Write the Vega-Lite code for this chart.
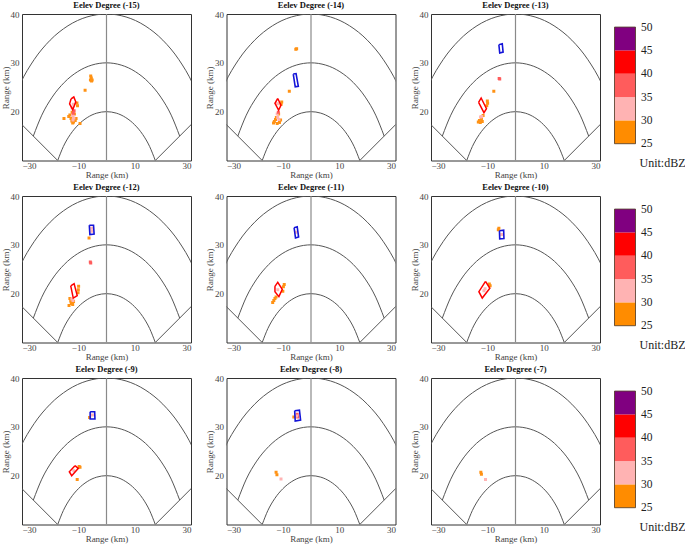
{
"$schema":"https://vega.github.io/schema/vega-lite/v6.json",
"padding":{"left":0,"top":0,"right":0,"bottom":0},
"datasets":{
"arcs":[
{"arc":20,"x":-17.32,"y":10},{"arc":20,"x":-15.32,"y":12.86},{"arc":20,"x":-12.86,"y":15.32},{"arc":20,"x":-10,"y":17.32},{"arc":20,"x":-6.84,"y":18.79},{"arc":20,"x":-3.47,"y":19.7},{"arc":20,"x":0,"y":20},{"arc":20,"x":3.47,"y":19.7},{"arc":20,"x":6.84,"y":18.79},{"arc":20,"x":10,"y":17.32},{"arc":20,"x":12.86,"y":15.32},{"arc":20,"x":15.32,"y":12.86},{"arc":20,"x":17.32,"y":10},
{"arc":30,"x":-25.98,"y":15},{"arc":30,"x":-22.98,"y":19.28},{"arc":30,"x":-19.28,"y":22.98},{"arc":30,"x":-15,"y":25.98},{"arc":30,"x":-10.26,"y":28.19},{"arc":30,"x":-5.21,"y":29.54},{"arc":30,"x":0,"y":30},{"arc":30,"x":5.21,"y":29.54},{"arc":30,"x":10.26,"y":28.19},{"arc":30,"x":15,"y":25.98},{"arc":30,"x":19.28,"y":22.98},{"arc":30,"x":22.98,"y":19.28},{"arc":30,"x":25.98,"y":15},
{"arc":40,"x":-34.64,"y":20},{"arc":40,"x":-30.64,"y":25.71},{"arc":40,"x":-25.71,"y":30.64},{"arc":40,"x":-20,"y":34.64},{"arc":40,"x":-13.68,"y":37.59},{"arc":40,"x":-6.95,"y":39.39},{"arc":40,"x":0,"y":40},{"arc":40,"x":6.95,"y":39.39},{"arc":40,"x":13.68,"y":37.59},{"arc":40,"x":20,"y":34.64},{"arc":40,"x":25.71,"y":30.64},{"arc":40,"x":30.64,"y":25.71},{"arc":40,"x":34.64,"y":20}
],
"radials":[
{"id":"side","x":-17.32,"y":10,"x2":-34.64,"y2":20},
{"id":"side","x":17.32,"y":10,"x2":34.64,"y2":20},
{"id":"center","x":0,"y":10,"x2":0,"y2":40}
],
"echo":[
{"p":1,"x":-5.6,"y":27.3,"d":27},{"p":1,"x":-5.4,"y":26.9,"d":27},{"p":1,"x":-5.1,"y":26.5,"d":27},{"p":1,"x":-5.7,"y":26.5,"d":27},{"p":1,"x":-5.3,"y":26.3,"d":27},{"p":1,"x":-7.6,"y":24.4,"d":26},
{"p":1,"x":-13.0,"y":19.3,"d":27},{"p":1,"x":-12.6,"y":18.6,"d":27},{"p":1,"x":-12.3,"y":18.1,"d":27},{"p":1,"x":-11.7,"y":17.9,"d":27},{"p":1,"x":-11.1,"y":18.2,"d":27},{"p":1,"x":-10.8,"y":18.6,"d":27},{"p":1,"x":-11.4,"y":19.5,"d":27},{"p":1,"x":-12.2,"y":19.9,"d":27},{"p":1,"x":-10.5,"y":21.8,"d":27},{"p":1,"x":-10.3,"y":21.2,"d":27},{"p":1,"x":-15.1,"y":18.6,"d":27},{"p":1,"x":-9.4,"y":17.6,"d":27},{"p":1,"x":-13.4,"y":19.0,"d":27},{"p":1,"x":-12.0,"y":17.7,"d":27},
{"p":1,"x":-12.0,"y":19.2,"d":32},{"p":1,"x":-11.6,"y":18.7,"d":32},{"p":1,"x":-11.9,"y":18.3,"d":32},{"p":1,"x":-12.2,"y":20.8,"d":32},{"p":1,"x":-11.8,"y":21.5,"d":32},{"p":1,"x":-11.8,"y":19.7,"d":37},{"p":1,"x":-11.5,"y":20.2,"d":37},
{"p":2,"x":-5.4,"y":32.8,"d":27},{"p":2,"x":-5.1,"y":32.9,"d":27},{"p":2,"x":-7.7,"y":24.2,"d":27},{"p":2,"x":-10.4,"y":22.0,"d":27},{"p":2,"x":-10.6,"y":21.5,"d":27},{"p":2,"x":-13.0,"y":18.0,"d":27},{"p":2,"x":-12.6,"y":18.4,"d":27},{"p":2,"x":-12.3,"y":18.8,"d":27},{"p":2,"x":-11.5,"y":19.5,"d":27},{"p":2,"x":-10.8,"y":18.3,"d":27},{"p":2,"x":-11.2,"y":17.8,"d":27},{"p":2,"x":-13.3,"y":17.7,"d":27},{"p":2,"x":-12.0,"y":17.6,"d":27},
{"p":2,"x":-11.8,"y":18.8,"d":32},{"p":2,"x":-12.0,"y":19.5,"d":32},{"p":2,"x":-11.4,"y":18.4,"d":32},{"p":2,"x":-11.9,"y":21.6,"d":32},{"p":2,"x":-11.6,"y":19.9,"d":37},
{"p":3,"x":-5.8,"y":26.8,"d":38},{"p":3,"x":-5.6,"y":26.7,"d":38},{"p":3,"x":-7.7,"y":24.2,"d":26},{"p":3,"x":-9.9,"y":21.7,"d":27},{"p":3,"x":-10.2,"y":21.2,"d":27},{"p":3,"x":-10.0,"y":22.2,"d":27},{"p":3,"x":-13.2,"y":17.9,"d":27},{"p":3,"x":-12.8,"y":18.2,"d":27},{"p":3,"x":-12.1,"y":18.6,"d":27},{"p":3,"x":-11.5,"y":19.2,"d":27},{"p":3,"x":-12.5,"y":17.8,"d":27},{"p":3,"x":-11.8,"y":18.0,"d":27},{"p":3,"x":-12.0,"y":19.0,"d":32},{"p":3,"x":-12.4,"y":18.9,"d":32},
{"p":4,"x":-5.3,"y":33.4,"d":32},{"p":4,"x":-5.2,"y":32.8,"d":32},{"p":4,"x":-6.2,"y":31.4,"d":27},{"p":4,"x":-5.75,"y":26.5,"d":37},{"p":4,"x":-5.6,"y":26.3,"d":37},{"p":4,"x":-9.9,"y":21.5,"d":27},{"p":4,"x":-10.0,"y":20.8,"d":27},{"p":4,"x":-10.1,"y":20.2,"d":27},{"p":4,"x":-13.0,"y":19.0,"d":27},{"p":4,"x":-12.7,"y":18.5,"d":27},{"p":4,"x":-12.5,"y":18.0,"d":27},{"p":4,"x":-12.0,"y":17.8,"d":27},{"p":4,"x":-13.3,"y":17.6,"d":27},{"p":4,"x":-11.7,"y":18.4,"d":27},{"p":4,"x":-11.9,"y":18.6,"d":32},{"p":4,"x":-12.3,"y":18.9,"d":32},
{"p":5,"x":-5.3,"y":32.6,"d":32},{"p":5,"x":-9.5,"y":21.9,"d":27},{"p":5,"x":-9.8,"y":21.4,"d":27},{"p":5,"x":-10.0,"y":20.5,"d":27},{"p":5,"x":-13.6,"y":18.2,"d":27},{"p":5,"x":-13.2,"y":18.6,"d":27},{"p":5,"x":-12.8,"y":19.0,"d":27},{"p":5,"x":-12.4,"y":19.3,"d":27},{"p":5,"x":-11.8,"y":20.8,"d":32},
{"p":6,"x":-6.1,"y":33.1,"d":27},{"p":6,"x":-5.9,"y":33.4,"d":27},{"p":6,"x":-4.9,"y":32.1,"d":32},{"p":6,"x":-9.0,"y":21.6,"d":27},{"p":6,"x":-9.3,"y":22.0,"d":27},{"p":6,"x":-11.2,"y":20.6,"d":32},{"p":6,"x":-10.8,"y":21.0,"d":32},
{"p":7,"x":-6.0,"y":31.9,"d":27},{"p":7,"x":-5.0,"y":32.4,"d":32},{"p":7,"x":-9.4,"y":21.7,"d":27},{"p":7,"x":-9.7,"y":21.9,"d":27},{"p":7,"x":-10.4,"y":19.2,"d":27},{"p":7,"x":-11.6,"y":21.0,"d":32},
{"p":8,"x":-4.9,"y":32.6,"d":37},{"p":8,"x":-4.7,"y":32.0,"d":37},{"p":8,"x":-5.1,"y":32.2,"d":32},{"p":8,"x":-6.1,"y":32.0,"d":27},{"p":8,"x":-12.4,"y":20.7,"d":27},{"p":8,"x":-12.1,"y":20.2,"d":27},{"p":8,"x":-10.65,"y":19.3,"d":32},
{"p":9,"x":-12.3,"y":20.7,"d":27},{"p":9,"x":-12.1,"y":20.3,"d":27},{"p":9,"x":-10.65,"y":19.2,"d":32}
],
"rings":[
{"p":1,"id":"r1","kind":"red","o":0,"x":-12.6,"y":22.6},{"p":1,"id":"r1","kind":"red","o":1,"x":-11.6,"y":23.0},{"p":1,"id":"r1","kind":"red","o":2,"x":-10.9,"y":22.0},{"p":1,"id":"r1","kind":"red","o":3,"x":-12.0,"y":20.4},{"p":1,"id":"r1","kind":"red","o":4,"x":-13.1,"y":21.6},{"p":1,"id":"r1","kind":"red","o":5,"x":-12.6,"y":22.6},
{"p":2,"id":"r2","kind":"red","o":0,"x":-11.8,"y":22.7},{"p":2,"id":"r2","kind":"red","o":1,"x":-10.65,"y":21.3},{"p":2,"id":"r2","kind":"red","o":2,"x":-11.5,"y":20.3},{"p":2,"id":"r2","kind":"red","o":3,"x":-12.8,"y":21.7},{"p":2,"id":"r2","kind":"red","o":4,"x":-11.8,"y":22.7},
{"p":2,"id":"b2","kind":"blue","o":0,"x":-6.3,"y":27.7},{"p":2,"id":"b2","kind":"blue","o":1,"x":-5.3,"y":27.8},{"p":2,"id":"b2","kind":"blue","o":2,"x":-4.5,"y":25.2},{"p":2,"id":"b2","kind":"blue","o":3,"x":-5.6,"y":25.1},{"p":2,"id":"b2","kind":"blue","o":4,"x":-6.3,"y":27.7},
{"p":3,"id":"b3","kind":"blue","o":0,"x":-5.9,"y":33.7},{"p":3,"id":"b3","kind":"blue","o":1,"x":-4.7,"y":33.9},{"p":3,"id":"b3","kind":"blue","o":2,"x":-4.4,"y":32.2},{"p":3,"id":"b3","kind":"blue","o":3,"x":-5.6,"y":32.0},{"p":3,"id":"b3","kind":"blue","o":4,"x":-5.9,"y":33.7},
{"p":3,"id":"r3","kind":"red","o":0,"x":-13.1,"y":21.9},{"p":3,"id":"r3","kind":"red","o":1,"x":-12.2,"y":22.8},{"p":3,"id":"r3","kind":"red","o":2,"x":-10.3,"y":20.6},{"p":3,"id":"r3","kind":"red","o":3,"x":-11.2,"y":19.8},{"p":3,"id":"r3","kind":"red","o":4,"x":-13.1,"y":21.9},
{"p":4,"id":"b4","kind":"blue","o":0,"x":-6.1,"y":34.0},{"p":4,"id":"b4","kind":"blue","o":1,"x":-4.6,"y":34.0},{"p":4,"id":"b4","kind":"blue","o":2,"x":-4.4,"y":32.2},{"p":4,"id":"b4","kind":"blue","o":3,"x":-5.9,"y":32.1},{"p":4,"id":"b4","kind":"blue","o":4,"x":-6.1,"y":34.0},
{"p":4,"id":"r4","kind":"red","o":0,"x":-12.7,"y":21.6},{"p":4,"id":"r4","kind":"red","o":1,"x":-11.5,"y":22.05},{"p":4,"id":"r4","kind":"red","o":2,"x":-10.4,"y":19.6},{"p":4,"id":"r4","kind":"red","o":3,"x":-11.8,"y":19.1},{"p":4,"id":"r4","kind":"red","o":4,"x":-12.7,"y":21.6},
{"p":5,"id":"b5","kind":"blue","o":0,"x":-6.0,"y":33.5},{"p":5,"id":"b5","kind":"blue","o":1,"x":-4.9,"y":33.7},{"p":5,"id":"b5","kind":"blue","o":2,"x":-4.4,"y":31.6},{"p":5,"id":"b5","kind":"blue","o":3,"x":-5.5,"y":31.4},{"p":5,"id":"b5","kind":"blue","o":4,"x":-6.0,"y":33.5},
{"p":5,"id":"r5","kind":"red","o":0,"x":-12.8,"y":21.5},{"p":5,"id":"r5","kind":"red","o":1,"x":-11.8,"y":22.3},{"p":5,"id":"r5","kind":"red","o":2,"x":-10.2,"y":20.9},{"p":5,"id":"r5","kind":"red","o":3,"x":-11.4,"y":19.4},{"p":5,"id":"r5","kind":"red","o":4,"x":-12.8,"y":20.4},{"p":5,"id":"r5","kind":"red","o":5,"x":-12.8,"y":21.5},
{"p":6,"id":"b6","kind":"blue","o":0,"x":-5.7,"y":32.9},{"p":6,"id":"b6","kind":"blue","o":1,"x":-4.2,"y":33.0},{"p":6,"id":"b6","kind":"blue","o":2,"x":-4.1,"y":31.3},{"p":6,"id":"b6","kind":"blue","o":3,"x":-5.6,"y":31.2},{"p":6,"id":"b6","kind":"blue","o":4,"x":-5.7,"y":32.9},
{"p":6,"id":"r6","kind":"red","o":0,"x":-10.65,"y":22.5},{"p":6,"id":"r6","kind":"red","o":1,"x":-9.1,"y":21.1},{"p":6,"id":"r6","kind":"red","o":2,"x":-11.8,"y":19.1},{"p":6,"id":"r6","kind":"red","o":3,"x":-13.0,"y":20.4},{"p":6,"id":"r6","kind":"red","o":4,"x":-10.65,"y":22.5},
{"p":7,"id":"b7","kind":"blue","o":0,"x":-5.8,"y":33.1},{"p":7,"id":"b7","kind":"blue","o":1,"x":-4.2,"y":33.1},{"p":7,"id":"b7","kind":"blue","o":2,"x":-4.1,"y":31.6},{"p":7,"id":"b7","kind":"blue","o":3,"x":-5.8,"y":31.6},{"p":7,"id":"b7","kind":"blue","o":4,"x":-5.8,"y":33.1},
{"p":7,"id":"r7","kind":"red","o":0,"x":-11.2,"y":22.05},{"p":7,"id":"r7","kind":"red","o":1,"x":-10.0,"y":21.5},{"p":7,"id":"r7","kind":"red","o":2,"x":-12.35,"y":20.0},{"p":7,"id":"r7","kind":"red","o":3,"x":-13.2,"y":20.8},{"p":7,"id":"r7","kind":"red","o":4,"x":-11.2,"y":22.05},
{"p":8,"id":"b8","kind":"blue","o":0,"x":-5.8,"y":33.3},{"p":8,"id":"b8","kind":"blue","o":1,"x":-4.1,"y":33.4},{"p":8,"id":"b8","kind":"blue","o":2,"x":-3.7,"y":31.4},{"p":8,"id":"b8","kind":"blue","o":3,"x":-5.6,"y":31.2},{"p":8,"id":"b8","kind":"blue","o":4,"x":-5.8,"y":33.3}
],
"bins":[{"lo":25,"hi":30},{"lo":30,"hi":35},{"lo":35,"hi":40},{"lo":40,"hi":45},{"lo":45,"hi":50}],
"frame":[{"lo":25,"hi":50}]
},
"vconcat":[
{"hconcat":[
{"width":169,"height":146.5,"title":"Eelev Degree (-15)","layer":[
{"data":{"name":"arcs"},"mark":{"type":"line","clip":true,"interpolate":"monotone","color":"#555555","strokeWidth":1},"encoding":{"x":{"field":"x","type":"quantitative","scale":{"domain":[-30,30],"nice":false,"zero":false},"axis":{"values":[-30,-20,-10,0,10,20,30]},"title":"Range (km)"},"y":{"field":"y","type":"quantitative","scale":{"domain":[10,40],"nice":false,"zero":false},"axis":{"values":[20,30,40]},"title":"Range (km)"},"detail":{"field":"arc"}}},
{"data":{"name":"radials"},"transform":[{"filter":"datum.id=='side'"}],"mark":{"type":"rule","clip":true,"color":"#555555","strokeWidth":1},"encoding":{"x":{"field":"x","type":"quantitative","title":"Range (km)"},"y":{"field":"y","type":"quantitative","title":"Range (km)"},"x2":{"field":"x2"},"y2":{"field":"y2"}}},
{"data":{"name":"radials"},"transform":[{"filter":"datum.id=='center'"}],"mark":{"type":"rule","clip":true,"color":"#8a8a8a","strokeWidth":1.2},"encoding":{"x":{"field":"x","type":"quantitative","title":"Range (km)"},"y":{"field":"y","type":"quantitative","title":"Range (km)"},"x2":{"field":"x2"},"y2":{"field":"y2"}}},
{"data":{"name":"echo"},"transform":[{"filter":"datum.p==1"}],"mark":{"type":"square","size":9,"opacity":1,"clip":true},"encoding":{"x":{"field":"x","type":"quantitative","title":"Range (km)"},"y":{"field":"y","type":"quantitative","title":"Range (km)"},"color":{"field":"d","type":"quantitative","scale":{"type":"threshold","domain":[30,35,40,45],"range":["#FF9214","#FFB3B3","#FF5C5C","#FF0000","#800080"]},"legend":null}}},
{"data":{"name":"rings"},"transform":[{"filter":"datum.p==1 && datum.kind=='red'"}],"mark":{"type":"line","color":"#FF0000","strokeWidth":1.5,"clip":true},"encoding":{"x":{"field":"x","type":"quantitative","title":"Range (km)"},"y":{"field":"y","type":"quantitative","title":"Range (km)"},"order":{"field":"o","type":"quantitative"},"detail":{"field":"id"}}},
{"data":{"name":"rings"},"transform":[{"filter":"datum.p==1 && datum.kind=='blue'"}],"mark":{"type":"line","color":"#1414D8","strokeWidth":1.6,"clip":true},"encoding":{"x":{"field":"x","type":"quantitative","title":"Range (km)"},"y":{"field":"y","type":"quantitative","title":"Range (km)"},"order":{"field":"o","type":"quantitative"},"detail":{"field":"id"}}}
]},
{"width":169,"height":146.5,"title":"Eelev Degree (-14)","layer":[
{"data":{"name":"arcs"},"mark":{"type":"line","clip":true,"interpolate":"monotone","color":"#555555","strokeWidth":1},"encoding":{"x":{"field":"x","type":"quantitative","scale":{"domain":[-30,30],"nice":false,"zero":false},"axis":{"values":[-30,-20,-10,0,10,20,30]},"title":"Range (km)"},"y":{"field":"y","type":"quantitative","scale":{"domain":[10,40],"nice":false,"zero":false},"axis":{"values":[20,30,40]},"title":"Range (km)"},"detail":{"field":"arc"}}},
{"data":{"name":"radials"},"transform":[{"filter":"datum.id=='side'"}],"mark":{"type":"rule","clip":true,"color":"#555555","strokeWidth":1},"encoding":{"x":{"field":"x","type":"quantitative","title":"Range (km)"},"y":{"field":"y","type":"quantitative","title":"Range (km)"},"x2":{"field":"x2"},"y2":{"field":"y2"}}},
{"data":{"name":"radials"},"transform":[{"filter":"datum.id=='center'"}],"mark":{"type":"rule","clip":true,"color":"#8a8a8a","strokeWidth":1.2},"encoding":{"x":{"field":"x","type":"quantitative","title":"Range (km)"},"y":{"field":"y","type":"quantitative","title":"Range (km)"},"x2":{"field":"x2"},"y2":{"field":"y2"}}},
{"data":{"name":"echo"},"transform":[{"filter":"datum.p==2"}],"mark":{"type":"square","size":9,"opacity":1,"clip":true},"encoding":{"x":{"field":"x","type":"quantitative","title":"Range (km)"},"y":{"field":"y","type":"quantitative","title":"Range (km)"},"color":{"field":"d","type":"quantitative","scale":{"type":"threshold","domain":[30,35,40,45],"range":["#FF9214","#FFB3B3","#FF5C5C","#FF0000","#800080"]},"legend":null}}},
{"data":{"name":"rings"},"transform":[{"filter":"datum.p==2 && datum.kind=='red'"}],"mark":{"type":"line","color":"#FF0000","strokeWidth":1.5,"clip":true},"encoding":{"x":{"field":"x","type":"quantitative","title":"Range (km)"},"y":{"field":"y","type":"quantitative","title":"Range (km)"},"order":{"field":"o","type":"quantitative"},"detail":{"field":"id"}}},
{"data":{"name":"rings"},"transform":[{"filter":"datum.p==2 && datum.kind=='blue'"}],"mark":{"type":"line","color":"#1414D8","strokeWidth":1.6,"clip":true},"encoding":{"x":{"field":"x","type":"quantitative","title":"Range (km)"},"y":{"field":"y","type":"quantitative","title":"Range (km)"},"order":{"field":"o","type":"quantitative"},"detail":{"field":"id"}}}
]},
{"width":169,"height":146.5,"title":"Eelev Degree (-13)","layer":[
{"data":{"name":"arcs"},"mark":{"type":"line","clip":true,"interpolate":"monotone","color":"#555555","strokeWidth":1},"encoding":{"x":{"field":"x","type":"quantitative","scale":{"domain":[-30,30],"nice":false,"zero":false},"axis":{"values":[-30,-20,-10,0,10,20,30]},"title":"Range (km)"},"y":{"field":"y","type":"quantitative","scale":{"domain":[10,40],"nice":false,"zero":false},"axis":{"values":[20,30,40]},"title":"Range (km)"},"detail":{"field":"arc"}}},
{"data":{"name":"radials"},"transform":[{"filter":"datum.id=='side'"}],"mark":{"type":"rule","clip":true,"color":"#555555","strokeWidth":1},"encoding":{"x":{"field":"x","type":"quantitative","title":"Range (km)"},"y":{"field":"y","type":"quantitative","title":"Range (km)"},"x2":{"field":"x2"},"y2":{"field":"y2"}}},
{"data":{"name":"radials"},"transform":[{"filter":"datum.id=='center'"}],"mark":{"type":"rule","clip":true,"color":"#8a8a8a","strokeWidth":1.2},"encoding":{"x":{"field":"x","type":"quantitative","title":"Range (km)"},"y":{"field":"y","type":"quantitative","title":"Range (km)"},"x2":{"field":"x2"},"y2":{"field":"y2"}}},
{"data":{"name":"echo"},"transform":[{"filter":"datum.p==3"}],"mark":{"type":"square","size":9,"opacity":1,"clip":true},"encoding":{"x":{"field":"x","type":"quantitative","title":"Range (km)"},"y":{"field":"y","type":"quantitative","title":"Range (km)"},"color":{"field":"d","type":"quantitative","scale":{"type":"threshold","domain":[30,35,40,45],"range":["#FF9214","#FFB3B3","#FF5C5C","#FF0000","#800080"]},"legend":null}}},
{"data":{"name":"rings"},"transform":[{"filter":"datum.p==3 && datum.kind=='red'"}],"mark":{"type":"line","color":"#FF0000","strokeWidth":1.5,"clip":true},"encoding":{"x":{"field":"x","type":"quantitative","title":"Range (km)"},"y":{"field":"y","type":"quantitative","title":"Range (km)"},"order":{"field":"o","type":"quantitative"},"detail":{"field":"id"}}},
{"data":{"name":"rings"},"transform":[{"filter":"datum.p==3 && datum.kind=='blue'"}],"mark":{"type":"line","color":"#1414D8","strokeWidth":1.6,"clip":true},"encoding":{"x":{"field":"x","type":"quantitative","title":"Range (km)"},"y":{"field":"y","type":"quantitative","title":"Range (km)"},"order":{"field":"o","type":"quantitative"},"detail":{"field":"id"}}}
]},
{"width":21,"height":146.5,"view":{"stroke":null},"title":{"text":"Unit:dBZ","orient":"bottom","anchor":"start","dx":25,"offset":-2.5,"fontSize":12,"fontWeight":"normal","color":"#222222"},"layer":[
{"data":{"name":"bins"},"mark":{"type":"rect"},"encoding":{"y":{"field":"lo","type":"quantitative","scale":{"domain":[21.4,52.8],"nice":false,"zero":false},"axis":{"orient":"right","values":[25,30,35,40,45,50],"labelFontSize":11.5,"labelPadding":5,"labelColor":"#222222","labelOverlap":false,"labelFlush":false},"title":null},"y2":{"field":"hi"},"color":{"field":"lo","type":"ordinal","scale":{"domain":[25,30,35,40,45],"range":["#FF8C00","#FFB3B3","#FF5C5C","#FF0000","#800080"]},"legend":null}}},
{"data":{"name":"frame"},"mark":{"type":"rect","filled":false,"stroke":"#4a3520","strokeWidth":0.8},"encoding":{"y":{"field":"lo","type":"quantitative","axis":{"orient":"right","values":[25,30,35,40,45,50],"labelFontSize":11.5,"labelPadding":5,"labelColor":"#222222","labelOverlap":false,"labelFlush":false},"title":null},"y2":{"field":"hi"}}}
]}
],"spacing":12.5},
{"hconcat":[
{"width":169,"height":146.5,"title":"Eelev Degree (-12)","layer":[
{"data":{"name":"arcs"},"mark":{"type":"line","clip":true,"interpolate":"monotone","color":"#555555","strokeWidth":1},"encoding":{"x":{"field":"x","type":"quantitative","scale":{"domain":[-30,30],"nice":false,"zero":false},"axis":{"values":[-30,-20,-10,0,10,20,30]},"title":"Range (km)"},"y":{"field":"y","type":"quantitative","scale":{"domain":[10,40],"nice":false,"zero":false},"axis":{"values":[20,30,40]},"title":"Range (km)"},"detail":{"field":"arc"}}},
{"data":{"name":"radials"},"transform":[{"filter":"datum.id=='side'"}],"mark":{"type":"rule","clip":true,"color":"#555555","strokeWidth":1},"encoding":{"x":{"field":"x","type":"quantitative","title":"Range (km)"},"y":{"field":"y","type":"quantitative","title":"Range (km)"},"x2":{"field":"x2"},"y2":{"field":"y2"}}},
{"data":{"name":"radials"},"transform":[{"filter":"datum.id=='center'"}],"mark":{"type":"rule","clip":true,"color":"#8a8a8a","strokeWidth":1.2},"encoding":{"x":{"field":"x","type":"quantitative","title":"Range (km)"},"y":{"field":"y","type":"quantitative","title":"Range (km)"},"x2":{"field":"x2"},"y2":{"field":"y2"}}},
{"data":{"name":"echo"},"transform":[{"filter":"datum.p==4"}],"mark":{"type":"square","size":9,"opacity":1,"clip":true},"encoding":{"x":{"field":"x","type":"quantitative","title":"Range (km)"},"y":{"field":"y","type":"quantitative","title":"Range (km)"},"color":{"field":"d","type":"quantitative","scale":{"type":"threshold","domain":[30,35,40,45],"range":["#FF9214","#FFB3B3","#FF5C5C","#FF0000","#800080"]},"legend":null}}},
{"data":{"name":"rings"},"transform":[{"filter":"datum.p==4 && datum.kind=='red'"}],"mark":{"type":"line","color":"#FF0000","strokeWidth":1.5,"clip":true},"encoding":{"x":{"field":"x","type":"quantitative","title":"Range (km)"},"y":{"field":"y","type":"quantitative","title":"Range (km)"},"order":{"field":"o","type":"quantitative"},"detail":{"field":"id"}}},
{"data":{"name":"rings"},"transform":[{"filter":"datum.p==4 && datum.kind=='blue'"}],"mark":{"type":"line","color":"#1414D8","strokeWidth":1.6,"clip":true},"encoding":{"x":{"field":"x","type":"quantitative","title":"Range (km)"},"y":{"field":"y","type":"quantitative","title":"Range (km)"},"order":{"field":"o","type":"quantitative"},"detail":{"field":"id"}}}
]},
{"width":169,"height":146.5,"title":"Eelev Degree (-11)","layer":[
{"data":{"name":"arcs"},"mark":{"type":"line","clip":true,"interpolate":"monotone","color":"#555555","strokeWidth":1},"encoding":{"x":{"field":"x","type":"quantitative","scale":{"domain":[-30,30],"nice":false,"zero":false},"axis":{"values":[-30,-20,-10,0,10,20,30]},"title":"Range (km)"},"y":{"field":"y","type":"quantitative","scale":{"domain":[10,40],"nice":false,"zero":false},"axis":{"values":[20,30,40]},"title":"Range (km)"},"detail":{"field":"arc"}}},
{"data":{"name":"radials"},"transform":[{"filter":"datum.id=='side'"}],"mark":{"type":"rule","clip":true,"color":"#555555","strokeWidth":1},"encoding":{"x":{"field":"x","type":"quantitative","title":"Range (km)"},"y":{"field":"y","type":"quantitative","title":"Range (km)"},"x2":{"field":"x2"},"y2":{"field":"y2"}}},
{"data":{"name":"radials"},"transform":[{"filter":"datum.id=='center'"}],"mark":{"type":"rule","clip":true,"color":"#8a8a8a","strokeWidth":1.2},"encoding":{"x":{"field":"x","type":"quantitative","title":"Range (km)"},"y":{"field":"y","type":"quantitative","title":"Range (km)"},"x2":{"field":"x2"},"y2":{"field":"y2"}}},
{"data":{"name":"echo"},"transform":[{"filter":"datum.p==5"}],"mark":{"type":"square","size":9,"opacity":1,"clip":true},"encoding":{"x":{"field":"x","type":"quantitative","title":"Range (km)"},"y":{"field":"y","type":"quantitative","title":"Range (km)"},"color":{"field":"d","type":"quantitative","scale":{"type":"threshold","domain":[30,35,40,45],"range":["#FF9214","#FFB3B3","#FF5C5C","#FF0000","#800080"]},"legend":null}}},
{"data":{"name":"rings"},"transform":[{"filter":"datum.p==5 && datum.kind=='red'"}],"mark":{"type":"line","color":"#FF0000","strokeWidth":1.5,"clip":true},"encoding":{"x":{"field":"x","type":"quantitative","title":"Range (km)"},"y":{"field":"y","type":"quantitative","title":"Range (km)"},"order":{"field":"o","type":"quantitative"},"detail":{"field":"id"}}},
{"data":{"name":"rings"},"transform":[{"filter":"datum.p==5 && datum.kind=='blue'"}],"mark":{"type":"line","color":"#1414D8","strokeWidth":1.6,"clip":true},"encoding":{"x":{"field":"x","type":"quantitative","title":"Range (km)"},"y":{"field":"y","type":"quantitative","title":"Range (km)"},"order":{"field":"o","type":"quantitative"},"detail":{"field":"id"}}}
]},
{"width":169,"height":146.5,"title":"Eelev Degree (-10)","layer":[
{"data":{"name":"arcs"},"mark":{"type":"line","clip":true,"interpolate":"monotone","color":"#555555","strokeWidth":1},"encoding":{"x":{"field":"x","type":"quantitative","scale":{"domain":[-30,30],"nice":false,"zero":false},"axis":{"values":[-30,-20,-10,0,10,20,30]},"title":"Range (km)"},"y":{"field":"y","type":"quantitative","scale":{"domain":[10,40],"nice":false,"zero":false},"axis":{"values":[20,30,40]},"title":"Range (km)"},"detail":{"field":"arc"}}},
{"data":{"name":"radials"},"transform":[{"filter":"datum.id=='side'"}],"mark":{"type":"rule","clip":true,"color":"#555555","strokeWidth":1},"encoding":{"x":{"field":"x","type":"quantitative","title":"Range (km)"},"y":{"field":"y","type":"quantitative","title":"Range (km)"},"x2":{"field":"x2"},"y2":{"field":"y2"}}},
{"data":{"name":"radials"},"transform":[{"filter":"datum.id=='center'"}],"mark":{"type":"rule","clip":true,"color":"#8a8a8a","strokeWidth":1.2},"encoding":{"x":{"field":"x","type":"quantitative","title":"Range (km)"},"y":{"field":"y","type":"quantitative","title":"Range (km)"},"x2":{"field":"x2"},"y2":{"field":"y2"}}},
{"data":{"name":"echo"},"transform":[{"filter":"datum.p==6"}],"mark":{"type":"square","size":9,"opacity":1,"clip":true},"encoding":{"x":{"field":"x","type":"quantitative","title":"Range (km)"},"y":{"field":"y","type":"quantitative","title":"Range (km)"},"color":{"field":"d","type":"quantitative","scale":{"type":"threshold","domain":[30,35,40,45],"range":["#FF9214","#FFB3B3","#FF5C5C","#FF0000","#800080"]},"legend":null}}},
{"data":{"name":"rings"},"transform":[{"filter":"datum.p==6 && datum.kind=='red'"}],"mark":{"type":"line","color":"#FF0000","strokeWidth":1.5,"clip":true},"encoding":{"x":{"field":"x","type":"quantitative","title":"Range (km)"},"y":{"field":"y","type":"quantitative","title":"Range (km)"},"order":{"field":"o","type":"quantitative"},"detail":{"field":"id"}}},
{"data":{"name":"rings"},"transform":[{"filter":"datum.p==6 && datum.kind=='blue'"}],"mark":{"type":"line","color":"#1414D8","strokeWidth":1.6,"clip":true},"encoding":{"x":{"field":"x","type":"quantitative","title":"Range (km)"},"y":{"field":"y","type":"quantitative","title":"Range (km)"},"order":{"field":"o","type":"quantitative"},"detail":{"field":"id"}}}
]},
{"width":21,"height":146.5,"view":{"stroke":null},"title":{"text":"Unit:dBZ","orient":"bottom","anchor":"start","dx":25,"offset":-2.5,"fontSize":12,"fontWeight":"normal","color":"#222222"},"layer":[
{"data":{"name":"bins"},"mark":{"type":"rect"},"encoding":{"y":{"field":"lo","type":"quantitative","scale":{"domain":[21.4,52.8],"nice":false,"zero":false},"axis":{"orient":"right","values":[25,30,35,40,45,50],"labelFontSize":11.5,"labelPadding":5,"labelColor":"#222222","labelOverlap":false,"labelFlush":false},"title":null},"y2":{"field":"hi"},"color":{"field":"lo","type":"ordinal","scale":{"domain":[25,30,35,40,45],"range":["#FF8C00","#FFB3B3","#FF5C5C","#FF0000","#800080"]},"legend":null}}},
{"data":{"name":"frame"},"mark":{"type":"rect","filled":false,"stroke":"#4a3520","strokeWidth":0.8},"encoding":{"y":{"field":"lo","type":"quantitative","axis":{"orient":"right","values":[25,30,35,40,45,50],"labelFontSize":11.5,"labelPadding":5,"labelColor":"#222222","labelOverlap":false,"labelFlush":false},"title":null},"y2":{"field":"hi"}}}
]}
],"spacing":12.5},
{"hconcat":[
{"width":169,"height":146.5,"title":"Eelev Degree (-9)","layer":[
{"data":{"name":"arcs"},"mark":{"type":"line","clip":true,"interpolate":"monotone","color":"#555555","strokeWidth":1},"encoding":{"x":{"field":"x","type":"quantitative","scale":{"domain":[-30,30],"nice":false,"zero":false},"axis":{"values":[-30,-20,-10,0,10,20,30]},"title":"Range (km)"},"y":{"field":"y","type":"quantitative","scale":{"domain":[10,40],"nice":false,"zero":false},"axis":{"values":[20,30,40]},"title":"Range (km)"},"detail":{"field":"arc"}}},
{"data":{"name":"radials"},"transform":[{"filter":"datum.id=='side'"}],"mark":{"type":"rule","clip":true,"color":"#555555","strokeWidth":1},"encoding":{"x":{"field":"x","type":"quantitative","title":"Range (km)"},"y":{"field":"y","type":"quantitative","title":"Range (km)"},"x2":{"field":"x2"},"y2":{"field":"y2"}}},
{"data":{"name":"radials"},"transform":[{"filter":"datum.id=='center'"}],"mark":{"type":"rule","clip":true,"color":"#8a8a8a","strokeWidth":1.2},"encoding":{"x":{"field":"x","type":"quantitative","title":"Range (km)"},"y":{"field":"y","type":"quantitative","title":"Range (km)"},"x2":{"field":"x2"},"y2":{"field":"y2"}}},
{"data":{"name":"echo"},"transform":[{"filter":"datum.p==7"}],"mark":{"type":"square","size":9,"opacity":1,"clip":true},"encoding":{"x":{"field":"x","type":"quantitative","title":"Range (km)"},"y":{"field":"y","type":"quantitative","title":"Range (km)"},"color":{"field":"d","type":"quantitative","scale":{"type":"threshold","domain":[30,35,40,45],"range":["#FF9214","#FFB3B3","#FF5C5C","#FF0000","#800080"]},"legend":null}}},
{"data":{"name":"rings"},"transform":[{"filter":"datum.p==7 && datum.kind=='red'"}],"mark":{"type":"line","color":"#FF0000","strokeWidth":1.5,"clip":true},"encoding":{"x":{"field":"x","type":"quantitative","title":"Range (km)"},"y":{"field":"y","type":"quantitative","title":"Range (km)"},"order":{"field":"o","type":"quantitative"},"detail":{"field":"id"}}},
{"data":{"name":"rings"},"transform":[{"filter":"datum.p==7 && datum.kind=='blue'"}],"mark":{"type":"line","color":"#1414D8","strokeWidth":1.6,"clip":true},"encoding":{"x":{"field":"x","type":"quantitative","title":"Range (km)"},"y":{"field":"y","type":"quantitative","title":"Range (km)"},"order":{"field":"o","type":"quantitative"},"detail":{"field":"id"}}}
]},
{"width":169,"height":146.5,"title":"Eelev Degree (-8)","layer":[
{"data":{"name":"arcs"},"mark":{"type":"line","clip":true,"interpolate":"monotone","color":"#555555","strokeWidth":1},"encoding":{"x":{"field":"x","type":"quantitative","scale":{"domain":[-30,30],"nice":false,"zero":false},"axis":{"values":[-30,-20,-10,0,10,20,30]},"title":"Range (km)"},"y":{"field":"y","type":"quantitative","scale":{"domain":[10,40],"nice":false,"zero":false},"axis":{"values":[20,30,40]},"title":"Range (km)"},"detail":{"field":"arc"}}},
{"data":{"name":"radials"},"transform":[{"filter":"datum.id=='side'"}],"mark":{"type":"rule","clip":true,"color":"#555555","strokeWidth":1},"encoding":{"x":{"field":"x","type":"quantitative","title":"Range (km)"},"y":{"field":"y","type":"quantitative","title":"Range (km)"},"x2":{"field":"x2"},"y2":{"field":"y2"}}},
{"data":{"name":"radials"},"transform":[{"filter":"datum.id=='center'"}],"mark":{"type":"rule","clip":true,"color":"#8a8a8a","strokeWidth":1.2},"encoding":{"x":{"field":"x","type":"quantitative","title":"Range (km)"},"y":{"field":"y","type":"quantitative","title":"Range (km)"},"x2":{"field":"x2"},"y2":{"field":"y2"}}},
{"data":{"name":"echo"},"transform":[{"filter":"datum.p==8"}],"mark":{"type":"square","size":9,"opacity":1,"clip":true},"encoding":{"x":{"field":"x","type":"quantitative","title":"Range (km)"},"y":{"field":"y","type":"quantitative","title":"Range (km)"},"color":{"field":"d","type":"quantitative","scale":{"type":"threshold","domain":[30,35,40,45],"range":["#FF9214","#FFB3B3","#FF5C5C","#FF0000","#800080"]},"legend":null}}},
{"data":{"name":"rings"},"transform":[{"filter":"datum.p==8 && datum.kind=='red'"}],"mark":{"type":"line","color":"#FF0000","strokeWidth":1.5,"clip":true},"encoding":{"x":{"field":"x","type":"quantitative","title":"Range (km)"},"y":{"field":"y","type":"quantitative","title":"Range (km)"},"order":{"field":"o","type":"quantitative"},"detail":{"field":"id"}}},
{"data":{"name":"rings"},"transform":[{"filter":"datum.p==8 && datum.kind=='blue'"}],"mark":{"type":"line","color":"#1414D8","strokeWidth":1.6,"clip":true},"encoding":{"x":{"field":"x","type":"quantitative","title":"Range (km)"},"y":{"field":"y","type":"quantitative","title":"Range (km)"},"order":{"field":"o","type":"quantitative"},"detail":{"field":"id"}}}
]},
{"width":169,"height":146.5,"title":"Eelev Degree (-7)","layer":[
{"data":{"name":"arcs"},"mark":{"type":"line","clip":true,"interpolate":"monotone","color":"#555555","strokeWidth":1},"encoding":{"x":{"field":"x","type":"quantitative","scale":{"domain":[-30,30],"nice":false,"zero":false},"axis":{"values":[-30,-20,-10,0,10,20,30]},"title":"Range (km)"},"y":{"field":"y","type":"quantitative","scale":{"domain":[10,40],"nice":false,"zero":false},"axis":{"values":[20,30,40]},"title":"Range (km)"},"detail":{"field":"arc"}}},
{"data":{"name":"radials"},"transform":[{"filter":"datum.id=='side'"}],"mark":{"type":"rule","clip":true,"color":"#555555","strokeWidth":1},"encoding":{"x":{"field":"x","type":"quantitative","title":"Range (km)"},"y":{"field":"y","type":"quantitative","title":"Range (km)"},"x2":{"field":"x2"},"y2":{"field":"y2"}}},
{"data":{"name":"radials"},"transform":[{"filter":"datum.id=='center'"}],"mark":{"type":"rule","clip":true,"color":"#8a8a8a","strokeWidth":1.2},"encoding":{"x":{"field":"x","type":"quantitative","title":"Range (km)"},"y":{"field":"y","type":"quantitative","title":"Range (km)"},"x2":{"field":"x2"},"y2":{"field":"y2"}}},
{"data":{"name":"echo"},"transform":[{"filter":"datum.p==9"}],"mark":{"type":"square","size":9,"opacity":1,"clip":true},"encoding":{"x":{"field":"x","type":"quantitative","title":"Range (km)"},"y":{"field":"y","type":"quantitative","title":"Range (km)"},"color":{"field":"d","type":"quantitative","scale":{"type":"threshold","domain":[30,35,40,45],"range":["#FF9214","#FFB3B3","#FF5C5C","#FF0000","#800080"]},"legend":null}}},
{"data":{"name":"rings"},"transform":[{"filter":"datum.p==9 && datum.kind=='red'"}],"mark":{"type":"line","color":"#FF0000","strokeWidth":1.5,"clip":true},"encoding":{"x":{"field":"x","type":"quantitative","title":"Range (km)"},"y":{"field":"y","type":"quantitative","title":"Range (km)"},"order":{"field":"o","type":"quantitative"},"detail":{"field":"id"}}},
{"data":{"name":"rings"},"transform":[{"filter":"datum.p==9 && datum.kind=='blue'"}],"mark":{"type":"line","color":"#1414D8","strokeWidth":1.6,"clip":true},"encoding":{"x":{"field":"x","type":"quantitative","title":"Range (km)"},"y":{"field":"y","type":"quantitative","title":"Range (km)"},"order":{"field":"o","type":"quantitative"},"detail":{"field":"id"}}}
]},
{"width":21,"height":146.5,"view":{"stroke":null},"title":{"text":"Unit:dBZ","orient":"bottom","anchor":"start","dx":25,"offset":-2.5,"fontSize":12,"fontWeight":"normal","color":"#222222"},"layer":[
{"data":{"name":"bins"},"mark":{"type":"rect"},"encoding":{"y":{"field":"lo","type":"quantitative","scale":{"domain":[21.4,52.8],"nice":false,"zero":false},"axis":{"orient":"right","values":[25,30,35,40,45,50],"labelFontSize":11.5,"labelPadding":5,"labelColor":"#222222","labelOverlap":false,"labelFlush":false},"title":null},"y2":{"field":"hi"},"color":{"field":"lo","type":"ordinal","scale":{"domain":[25,30,35,40,45],"range":["#FF8C00","#FFB3B3","#FF5C5C","#FF0000","#800080"]},"legend":null}}},
{"data":{"name":"frame"},"mark":{"type":"rect","filled":false,"stroke":"#4a3520","strokeWidth":0.8},"encoding":{"y":{"field":"lo","type":"quantitative","axis":{"orient":"right","values":[25,30,35,40,45,50],"labelFontSize":11.5,"labelPadding":5,"labelColor":"#222222","labelOverlap":false,"labelFlush":false},"title":null},"y2":{"field":"hi"}}}
]}
],"spacing":12.5}
],
"spacing":2,
"config":{
"font":"Liberation Serif, Times New Roman, serif",
"view":{"stroke":"#333333","strokeWidth":1},
"axis":{"labelFont":"Liberation Serif, Times New Roman, serif","titleFont":"Liberation Serif, Times New Roman, serif","labelFontSize":9,"titleFontSize":9,"titleFontWeight":"normal","labelColor":"#444444","titleColor":"#444444","grid":false,"domain":false,"ticks":false,"labelOverlap":false},
"axisX":{"labelPadding":1,"titlePadding":0},
"axisY":{"labelPadding":3,"titlePadding":0},
"title":{"font":"Liberation Serif, Times New Roman, serif","fontSize":8.5,"fontWeight":"bold","color":"#111111","offset":0.5,"frame":"group"}
}
}
